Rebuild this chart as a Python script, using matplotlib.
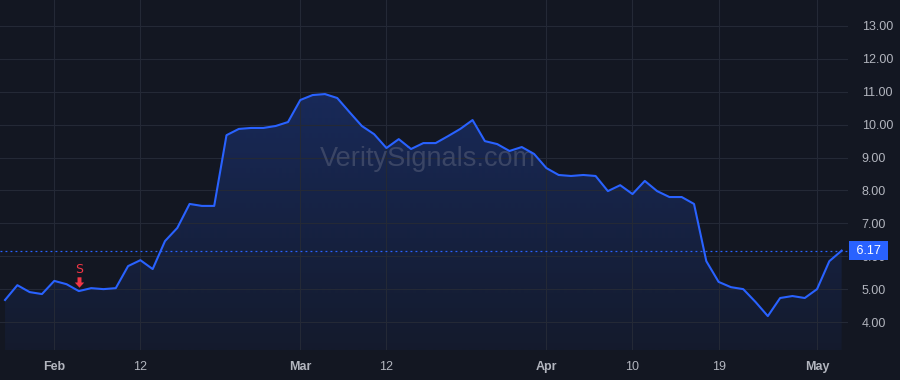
import matplotlib.pyplot as plt
import numpy as np
from matplotlib.patches import Polygon
from matplotlib.path import Path
from matplotlib.transforms import offset_copy

# daily closes, Jan 26 .. May 3 (trading days)
prices = [4.67, 5.12, 4.91, 4.85, 5.25, 5.15, 4.94, 5.03, 5.00, 5.03,
          5.70, 5.88, 5.61, 6.46, 6.86, 7.59, 7.53, 7.53, 9.68, 9.87,
          9.90, 9.90, 9.96, 10.08, 10.75, 10.90, 10.93, 10.81, 10.38, 9.96,
          9.71, 9.29, 9.56, 9.26, 9.44, 9.44, 9.65, 9.87, 10.14, 9.50,
          9.41, 9.20, 9.32, 9.11, 8.68, 8.47, 8.44, 8.47, 8.44, 7.98,
          8.16, 7.89, 8.29, 7.98, 7.80, 7.80, 7.59, 5.85, 5.22, 5.06,
          5.00, 4.61, 4.18, 4.73, 4.79, 4.73, 5.00, 5.85, 6.17]
tick_pos = [4, 11, 24, 31, 44, 51, 58, 66]
tick_labels = ['Feb', '12', 'Mar', '12', 'Apr', '10', '19', 'May']
y_ticks = [4, 5, 6, 7, 8, 9, 10, 11, 12, 13]
signal_idx = 6
signal_label = 'S'
last_price = prices[-1]

plt.rcParams['font.family'] = ['Liberation Sans', 'DejaVu Sans']
bg = '#131722'
blue = '#2962ff'
red = '#f23645'
x = np.arange(len(prices))

fig = plt.figure(figsize=(9, 3.8), dpi=100, facecolor=bg)
ax = fig.add_axes([0, 0.079, 0.942, 0.921], facecolor=bg)
ax.set_xlim(-0.41, 68.5)
ax.set_ylim(3.15, 13.79)

# gradient fill under the line
grad = np.linspace(0, 1, 256).reshape(-1, 1)
rgba = np.zeros((256, 1, 4))
rgba[..., 0] = 41 / 255
rgba[..., 1] = 98 / 255
rgba[..., 2] = 1.0
rgba[..., 3] = 0.05 + 0.2 * grad
img = ax.imshow(rgba, extent=[x[0], x[-1], 3.15, max(prices)],
                origin='lower', aspect='auto', zorder=1)
verts = [(x[0], 3.15)] + list(zip(x, prices)) + [(x[-1], 3.15)]
clip = Polygon(verts, closed=True, transform=ax.transData, facecolor='none', edgecolor='none')
ax.add_patch(clip)
img.set_clip_path(clip)

ax.plot(x, prices, color=blue, lw=1.5, zorder=3, solid_joinstyle='round')
ax.axhline(last_price, color=blue, lw=0.9, ls=(0, (1.5, 2.5)), zorder=2)

ax.set_xticks(tick_pos)
ax.set_xticklabels(tick_labels)
for lbl in ax.get_xticklabels():
    if not lbl.get_text().isdigit():
        lbl.set_fontweight('bold')
ax.set_yticks(y_ticks)
ax.set_yticklabels([f'{v:.2f}' for v in y_ticks])
ax.yaxis.tick_right()
ax.tick_params(colors='#b2b5be', labelsize=9, length=0, pad=10)
ax.tick_params(axis='x', pad=8)
ax.grid(True, color='#242936', lw=0.8)
for s in ax.spines.values():
    s.set_visible(False)

# last price label, covers the 6.00 tick label like the original
ax.text(1.006, last_price, f' {last_price:.2f} ', transform=ax.get_yaxis_transform(),
        ha='left', va='center', color='white', fontsize=9, zorder=10,
        bbox=dict(boxstyle='square,pad=0.3', facecolor=blue, edgecolor='none'),
        clip_on=False)

# sell signal: down arrow + letter
arrow = Path([(-0.38, 1), (0.38, 1), (0.38, 0.0), (0.9, 0.0), (0, -1),
              (-0.9, 0.0), (-0.38, 0.0), (-0.38, 1)],
             [1, 2, 2, 2, 2, 2, 2, 79])
arr_tr = offset_copy(ax.transData, fig=fig, x=0, y=9, units='dots')
ax.plot([signal_idx], [prices[signal_idx]], marker=arrow, markersize=7.5,
        color=red, mew=0, transform=arr_tr, zorder=5)
txt_tr = offset_copy(ax.transData, fig=fig, x=0, y=22, units='dots')
ax.text(signal_idx, prices[signal_idx], signal_label, color=red, transform=txt_tr,
        ha='center', va='center', fontsize=9, family='DejaVu Sans', zorder=5)

ax.text(0.505, 0.545, 'VeritySignals.com', transform=ax.transAxes, ha='center',
        va='center', fontsize=19.5, color='#4a5370', alpha=0.7, zorder=2)

fig.savefig('out.png', facecolor=bg)
